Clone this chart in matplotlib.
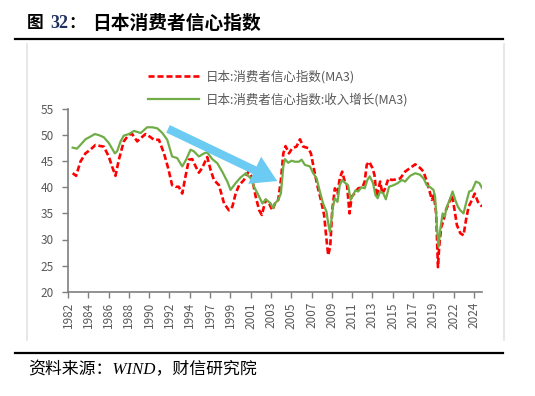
import matplotlib.pyplot as plt
from matplotlib.lines import Line2D

plt.rcParams['font.family'] = ['Noto Sans CJK SC', 'DejaVu Sans']

year_labels = ['1982', '1984', '1986', '1988', '1990', '1992', '1994', '1997',
               '1999', '2001', '2003', '2005', '2007', '2009', '2011', '2013',
               '2015', '2017', '2019', '2022', '2024']

# positions in label-interval units (0 = 1982 tick)
t_red = [0.23, 0.40, 0.61, 0.86, 1.10, 1.35, 1.60, 1.76, 2.01, 2.17, 2.34, 2.50,
         2.75, 3.00, 3.16, 3.41, 3.58, 3.82, 4.07, 4.23, 4.48, 4.73, 4.94,
         5.13, 5.30, 5.46, 5.63, 5.79, 5.96, 6.12, 6.29, 6.45, 6.61, 6.86, 7.03,
         7.19, 7.44, 7.69, 7.93, 8.10, 8.26, 8.43, 8.67, 8.89, 9.05, 9.25, 9.42,
         9.55, 9.74, 9.91, 10.07, 10.20, 10.36, 10.49, 10.61, 10.72, 10.89, 11.05,
         11.26, 11.43, 11.59, 11.84, 11.97, 12.13, 12.30, 12.46, 12.62, 12.74,
         12.82, 12.92, 13.02, 13.15, 13.28, 13.39, 13.51, 13.64, 13.75, 13.87,
         13.98, 14.11, 14.30, 14.51, 14.62, 14.72, 14.84, 15.00, 15.10, 15.21,
         15.38, 15.49, 15.63, 15.79, 15.95, 16.15, 16.37, 16.61, 16.86, 17.11,
         17.35, 17.52, 17.68, 17.80, 17.93, 18.03, 18.14, 18.23, 18.29, 18.39,
         18.51, 18.62, 18.79, 18.92, 19.05, 19.16, 19.33, 19.49, 19.61, 19.74,
         19.91, 20.04, 20.20, 20.40]
red = [42.7, 42.2, 44.9, 46.5, 47.2, 48.1, 47.9, 47.8, 45.9, 44.0, 42.2, 45.2,
       48.8, 50.1, 50.2, 48.8, 49.4, 50.2, 49.6, 49.1, 49.1, 46.5, 43.6,
       40.4, 40.1, 40.1, 38.8, 42.1, 45.3, 45.4, 44.0, 42.8, 43.7, 45.8, 43.3,
       41.4, 40.4, 36.9, 35.6, 36.3, 38.8, 40.4, 41.4, 43.0, 42.1, 38.2, 35.6,
       34.7, 37.6, 36.9, 35.6, 36.9, 37.6, 41.4, 46.5, 47.9, 46.5, 47.5,
       47.8, 49.2, 47.8, 47.5, 46.5, 43.3, 40.1, 37.6, 34.7, 29.9,
       27.0, 28.6, 35.6, 39.8, 38.8, 41.7, 43.0, 41.1, 40.4, 35.0,
       38.2, 38.8, 39.8, 40.0, 41.1, 44.3, 44.9, 43.7, 42.4, 38.2,
       41.1, 38.8, 39.8, 41.7, 41.4, 41.5, 41.7, 43.0, 43.7, 44.4,
       43.7, 43.0, 41.1, 39.5, 37.6, 38.5, 35.0, 24.7, 28.6, 32.4,
       33.7, 35.6, 37.2, 38.5, 35.6, 32.8, 31.2, 30.8, 33.7, 36.3,
       37.6, 38.8, 37.2, 36.3]

t_green = [0.23, 0.44, 0.61, 0.86, 1.10, 1.32, 1.52, 1.76, 2.01, 2.31, 2.42, 2.59,
           2.75, 3.00, 3.25, 3.58, 3.90, 4.15, 4.40, 4.65, 4.89,
           5.13, 5.38, 5.63, 5.82, 6.04, 6.20, 6.45, 6.70, 6.86, 7.11, 7.36, 7.60,
           7.85, 8.01, 8.26, 8.51, 8.76, 9.00, 9.17, 9.42, 9.58, 9.74, 9.99, 10.10,
           10.20, 10.36, 10.49, 10.61, 10.69, 10.85, 11.02, 11.18, 11.38, 11.51,
           11.67, 11.92, 12.08, 12.25, 12.41, 12.57, 12.74, 12.82, 12.90, 12.98,
           13.07, 13.15, 13.28, 13.39, 13.51, 13.64, 13.80, 13.93, 14.05, 14.16,
           14.30, 14.46, 14.62, 14.75, 14.87, 15.03, 15.15, 15.26, 15.38, 15.54,
           15.66, 15.82, 16.04, 16.25, 16.45, 16.61, 16.86, 17.11, 17.35, 17.52,
           17.68, 17.85, 18.01, 18.09, 18.18, 18.26, 18.34, 18.46, 18.56, 18.67,
           18.84, 18.95, 19.08, 19.21, 19.33, 19.49, 19.61, 19.77, 19.91, 20.10,
           20.27, 20.40]
green = [47.6, 47.4, 48.1, 49.2, 49.7, 50.2, 50.0, 49.6, 48.5, 46.5, 46.9, 48.8,
         49.9, 50.2, 50.8, 50.4, 51.5, 51.5, 51.3, 50.4, 49.1,
         45.9, 45.6, 44.0, 45.3, 47.2, 46.9, 45.9, 46.5, 46.7, 45.4, 44.6, 43.0,
         41.1, 39.5, 40.8, 41.9, 42.7, 41.7, 40.1, 38.2, 36.9, 37.7, 36.9, 36.0,
         36.9, 37.6, 38.8, 44.0, 45.4, 44.7, 45.1, 44.9, 44.9, 45.3,
         44.3, 44.0, 42.7, 41.7, 39.2, 36.9, 35.3, 33.1, 31.5, 33.7,
         36.6, 37.9, 37.2, 40.4, 41.4, 40.9, 40.4, 37.6, 38.5, 39.4,
         39.2, 40.0, 39.8, 41.4, 42.1, 40.8, 38.5, 37.9, 39.2, 38.8,
         37.7, 40.1, 40.4, 40.8, 41.4, 41.1, 42.2, 42.7, 42.4, 41.7,
         40.4, 40.0, 39.5, 38.2, 32.4, 28.6, 31.8, 35.0, 34.4, 36.3,
         37.9, 39.2, 37.6, 36.3, 35.6, 35.0, 36.9, 39.2, 39.4, 41.1,
         40.8, 39.9]

W, H = 535, 396
fig = plt.figure(figsize=(W / 100, H / 100), dpi=100)


def fx(px):
    return px / W


def fy(py):
    return 1 - py / H


# header / footer rules and outer frame
fig.add_artist(Line2D([fx(15), fx(503)], [fy(39), fy(39)], color='black', lw=1.6))
fig.add_artist(Line2D([fx(15), fx(503)], [fy(353), fy(353)], color='black', lw=1.6))
fig.add_artist(Line2D([fx(27), fx(27)], [fy(44), fy(340)], color='#E3E3E3', lw=1.2))
fig.add_artist(Line2D([fx(503.5), fx(503.5)], [fy(44), fy(340)], color='#E3E3E3', lw=1.2))

fig.text(fx(27), fy(23), '图', fontsize=12, fontweight='bold', va='center', ha='left')
fig.text(fx(50), fy(23), '32', fontsize=13, fontweight='bold', va='center', ha='left',
         family=['Liberation Serif'], color='#1F2F5F')
fig.text(fx(68), fy(23), '：', fontsize=12, fontweight='bold', va='center', ha='left')
fig.text(fx(92), fy(23), '日本消费者信心指数', fontsize=13.5, fontweight='bold',
         va='center', ha='left')
fig.text(fx(28), fy(370), '资料来源：WIND，财信研究院', fontsize=12.2, va='center',
         ha='left', style='italic', family=['Liberation Serif', 'Noto Sans CJK SC'])

ax = fig.add_axes([fx(68), fy(291.7), fx(482) - fx(68), fy(109) - fy(291.7)])
ax.plot(t_red, red, color='#FF0000', lw=1.9, ls=(0, (2.3, 1.1)),
        label='日本:消费者信心指数(MA3)')
ax.plot(t_green, green, color='#70AD47', lw=1.6,
        label='日本:消费者信心指数:收入增长(MA3)')

ax.annotate('', xy=(10.31, 41.2), xytext=(4.93, 51.2),
            arrowprops=dict(arrowstyle='simple,head_length=1.5,head_width=1.8,tail_width=0.5',
                            color='#6CCBF2', lw=0, shrinkA=0, shrinkB=0, mutation_scale=12))

ax.set_xlim(0, 20.4)
ax.set_ylim(20, 55)
ax.set_yticks(range(20, 56, 5))
ax.set_xticks(range(len(year_labels)))
ax.set_xticklabels(year_labels, rotation=90)
ax.tick_params(axis='both', colors='#7F7F7F', labelcolor='#595959', labelsize=8.5,
               length=4, width=1)
ax.tick_params(axis='y', pad=6)
for s in ['top', 'right']:
    ax.spines[s].set_visible(False)
for s in ['left', 'bottom']:
    ax.spines[s].set_color('#7F7F7F')
    ax.spines[s].set_linewidth(1.2)

fig.legend(loc='upper left', bbox_to_anchor=(fx(148), fy(70)), frameon=False,
           fontsize=9, handlelength=4.1, handletextpad=0.55, labelspacing=0.75,
           borderpad=0, borderaxespad=0, labelcolor='#595959')

fig.savefig('out.png', dpi=100)
